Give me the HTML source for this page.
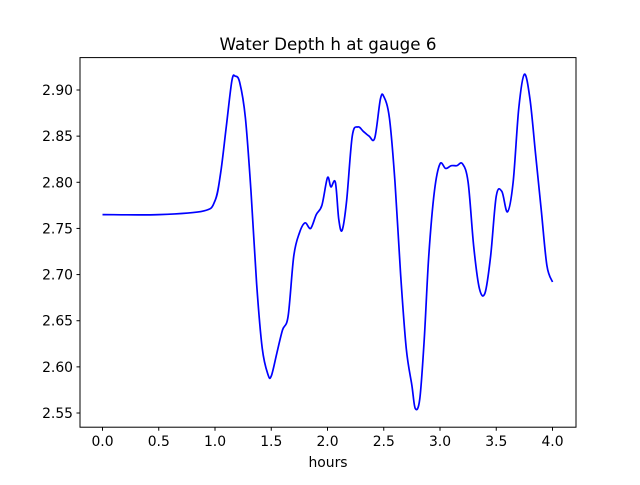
<!DOCTYPE html>
<html><head><meta charset="utf-8"><style>
body{margin:0;background:#fff;}
svg text{font-family:"DejaVu Sans","Liberation Sans",sans-serif;fill:#000;}
</style></head><body>
<svg id="chart" width="640" height="480">
<rect width="640" height="480" fill="#fff"/>
<text x="328" y="50" font-size="16.7" text-anchor="middle">Water Depth h at gauge 6</text>
<g id="ticks"></g>
<path id="line" fill="none" stroke="#0000ff" stroke-width="1.7"/>
<rect x="80" y="57.6" width="496" height="369.6" fill="none" stroke="#000" stroke-width="1"/>
<text x="328" y="467" font-size="13.9" text-anchor="middle">hours</text>
</svg>
<script>
const hours=[0,0.5,0.9,1.0,1.05,1.1,1.15,1.18,1.22,1.27,1.32,1.37,1.42,1.47,1.5,1.55,1.6,1.65,1.7,1.75,1.8,1.85,1.9,1.95,2.0,2.03,2.07,2.1,2.13,2.17,2.22,2.27,2.32,2.37,2.42,2.47,2.5,2.55,2.6,2.65,2.7,2.75,2.78,2.82,2.86,2.9,2.95,3.0,3.05,3.1,3.15,3.2,3.25,3.3,3.35,3.4,3.45,3.5,3.55,3.6,3.65,3.7,3.75,3.8,3.85,3.9,3.95,4.0];
const depth=[2.765,2.765,2.769,2.78,2.81,2.86,2.91,2.915,2.908,2.87,2.79,2.69,2.62,2.592,2.59,2.615,2.64,2.655,2.72,2.745,2.756,2.75,2.765,2.775,2.805,2.795,2.80,2.76,2.748,2.78,2.85,2.86,2.855,2.85,2.848,2.89,2.893,2.87,2.80,2.70,2.62,2.58,2.555,2.565,2.63,2.72,2.79,2.82,2.815,2.818,2.818,2.82,2.80,2.73,2.685,2.68,2.72,2.785,2.79,2.768,2.80,2.88,2.917,2.89,2.83,2.77,2.71,2.692];
const xTicks=[0,0.5,1.0,1.5,2.0,2.5,3.0,3.5,4.0];
const yTicks=[2.55,2.60,2.65,2.70,2.75,2.80,2.85,2.90];
const X=v=>102.5+v*112.5;
const Y=v=>90-(v-2.90)*922.9;
const NS='http://www.w3.org/2000/svg';
const g=document.getElementById('ticks');
function mk(t,a){const e=document.createElementNS(NS,t);for(const k in a)e.setAttribute(k,a[k]);g.appendChild(e);return e;}
xTicks.forEach(v=>{
 const l=mk('line',{x1:X(v),x2:X(v),y1:427.2,y2:430.7,stroke:'#000'});
 
 
 const t=mk('text',{x:X(v),y:446,'font-size':13.9,'text-anchor':'middle'});
 t.textContent=v.toFixed(1);
 
 
});
yTicks.forEach(v=>{
 const l=mk('line',{x1:76.5,x2:80,y1:Y(v),y2:Y(v),stroke:'#000'});
 
 
 const t=mk('text',{x:73,y:Y(v)+5,'font-size':13.9,'text-anchor':'end'});
 t.textContent=v.toFixed(2);
 
 
});
const P=hours.map((h,i)=>[X(h),Y(depth[i])]);
let d='M'+P[0][0]+','+P[0][1];
for(let i=0;i<P.length-1;i++){
 const p0=P[Math.max(i-1,0)],p1=P[i],p2=P[i+1],p3=P[Math.min(i+2,P.length-1)];
 const c1=[p1[0]+(p2[0]-p0[0])/6,p1[1]+(p2[1]-p0[1])/6];
 const c2=[p2[0]-(p3[0]-p1[0])/6,p2[1]-(p3[1]-p1[1])/6];
 d+=' C'+c1+' '+c2+' '+p2;
}
document.getElementById('line').setAttribute('d',d);
</script>
</body></html>
